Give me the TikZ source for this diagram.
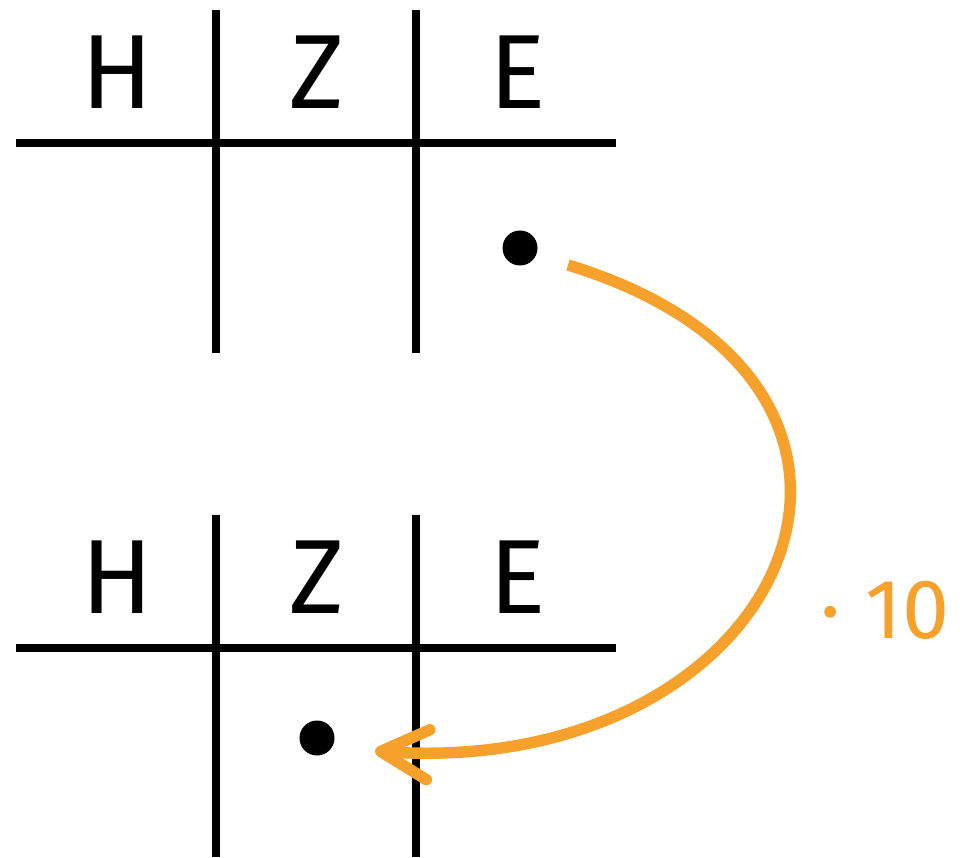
\documentclass[tikz,border=0pt]{standalone}
\usepackage{fontspec}
\setmainfont{Fira Sans}
\usepackage{xcolor}
\usepackage{tikz}
\usetikzlibrary{arrows.meta, positioning, calc}
\definecolor{tenorange}{HTML}{F5A12B}

\begin{document}
\begin{tikzpicture}[
    rule/.style={line width=4pt, black},
    hdr/.style={inner sep=0pt, font=\fontsize{60}{62}\selectfont},
    chip/.style={circle, fill=black, inner sep=0pt, minimum size=0.7cm},
    arr/.style={line width=6.5pt, tenorange, -{Straight Barb[length=9.5mm, width=10mm, round]}}
]
    \useasboundingbox (0,0) rectangle (19.2,17.14);

    % upper chart
    \draw[rule] (0.32,14.28) -- (12.32,14.28);
    \draw[rule] (4.32,16.94) -- (4.32,10.08);
    \draw[rule] (8.32,16.94) -- (8.32,10.08);
    \node[hdr] (hup) at (2.34,15.7)  {H};
    \node[hdr] (zup) at (6.34,15.7)  {Z};
    \node[hdr] (eup) at (10.36,15.7) {E};
    \node[chip] (dotup) at (10.4,12.18) {};

    % lower chart
    \draw[rule] (0.32,4.18) -- (12.32,4.18);
    \draw[rule] (4.32,6.84) -- (4.32,0);
    \draw[rule] (8.32,6.84) -- (8.32,0);
    \node[hdr] (hlow) at (2.34,5.6)  {H};
    \node[hdr] (zlow) at (6.34,5.6)  {Z};
    \node[hdr] (elow) at (10.36,5.6) {E};
    \node[chip] (dotlow) at (6.34,2.38) {};

    % shift by one place
    \coordinate (arcstart) at (11.36,11.84);
    \coordinate (arcend)   at (7.5,2.12);
    \draw[arr] (arcstart) to[out=-17, in=-4, looseness=2.02] (arcend);
    \node[anchor=west, inner sep=0pt, text=tenorange, font=\fontsize{48}{50}\selectfont] (times) at (16.4,4.94) {·\hspace{0.5cm}10};
\end{tikzpicture}
\end{document}
